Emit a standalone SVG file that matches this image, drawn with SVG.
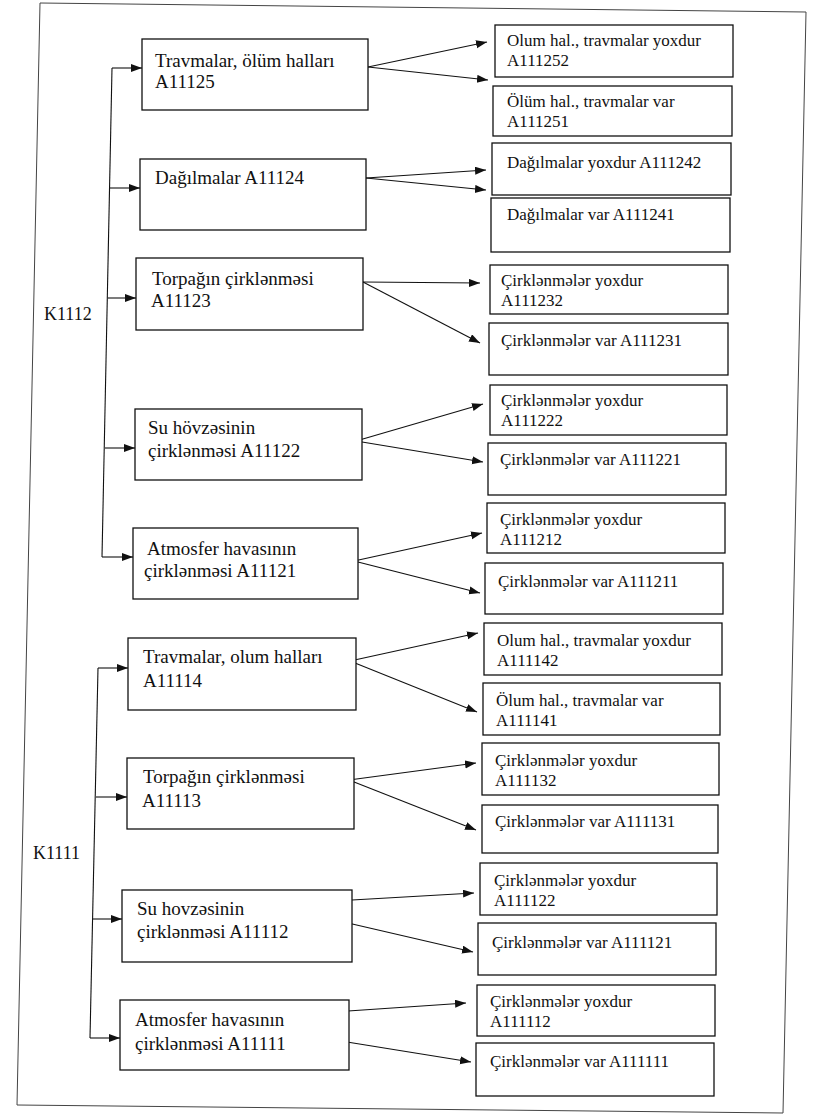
<svg xmlns="http://www.w3.org/2000/svg" width="813" height="1115" viewBox="0 0 813 1115">
  <style>
    .box { fill: #fff; stroke: #111; stroke-width: 1.3; }
    .frame { fill: none; stroke: #444; stroke-width: 1; }
    text { font-family: "Liberation Serif", "DejaVu Serif", serif; fill: #111; }
    .lt { font-size: 19px; }
    .rt { font-size: 17px; }
    .kl { font-size: 18px; }
    .ln { fill: none; stroke: #111; stroke-width: 1.1; }
    .ar { fill: none; stroke: #111; stroke-width: 1.1; marker-end: url(#head); }
  </style>
  <defs>
    <marker id="head" markerUnits="userSpaceOnUse" markerWidth="12" markerHeight="10" refX="11" refY="4" orient="auto">
      <path d="M0,0 L11,4 L0,8 Z" fill="#111"/>
    </marker>
  </defs>
  <rect width="813" height="1115" fill="#fff"/>

  <!-- outer frame -->
  <polygon class="frame" points="40,3 806,12 783,1113 17,1105"/>

  <!-- group labels -->
  <text class="kl" x="44" y="320">K1112</text>
  <text class="kl" x="33" y="859">K1111</text>

  <!-- connectors -->
  <g id="connectors">
    <!-- K1112 trunk and branches -->
    <polyline class="ln" points="112,68 102,557"/>
    <line class="ar" x1="112" y1="68" x2="142" y2="68"/>
    <line class="ar" x1="110" y1="188" x2="140" y2="188"/>
    <line class="ar" x1="108" y1="298" x2="136" y2="298"/>
    <line class="ar" x1="105" y1="448" x2="135" y2="448"/>
    <line class="ar" x1="102" y1="557" x2="133" y2="557"/>
    <!-- K1111 trunk and branches -->
    <polyline class="ln" points="98,668 90,1038"/>
    <line class="ar" x1="98" y1="668" x2="128" y2="668"/>
    <line class="ar" x1="96" y1="797" x2="127" y2="797"/>
    <line class="ar" x1="93" y1="919" x2="122" y2="919"/>
    <line class="ar" x1="90" y1="1038" x2="120" y2="1038"/>

    <!-- A11125 -->
    <line class="ar" x1="368" y1="67" x2="487" y2="42"/>
    <line class="ar" x1="368" y1="67" x2="488" y2="80"/>
    <!-- A11124 -->
    <line class="ar" x1="366" y1="178" x2="486" y2="170"/>
    <line class="ar" x1="366" y1="178" x2="486" y2="190"/>
    <!-- A11123 -->
    <line class="ar" x1="363" y1="282" x2="480" y2="283"/>
    <line class="ar" x1="363" y1="282" x2="480" y2="343"/>
    <!-- A11122 -->
    <line class="ar" x1="356" y1="441" x2="483" y2="404"/>
    <line class="ar" x1="356" y1="441" x2="483" y2="462"/>
    <!-- A11121 -->
    <line class="ar" x1="354" y1="561" x2="482" y2="533"/>
    <line class="ar" x1="354" y1="561" x2="480" y2="593"/>
    <!-- A11114 -->
    <line class="ar" x1="350" y1="661" x2="478" y2="633"/>
    <line class="ar" x1="350" y1="661" x2="477" y2="712"/>
    <!-- A11113 -->
    <line class="ar" x1="349" y1="780" x2="476" y2="763"/>
    <line class="ar" x1="349" y1="780" x2="476" y2="830"/>
    <!-- A11112 -->
    <line class="ar" x1="352" y1="900" x2="474" y2="893"/>
    <line class="ar" x1="348" y1="923" x2="473" y2="952"/>
    <!-- A11111 -->
    <line class="ar" x1="348" y1="1011" x2="466" y2="1003"/>
    <line class="ar" x1="347" y1="1042" x2="471" y2="1062"/>
  </g>

  <!-- second-level nodes, K1112 -->
  <g id="n-a11125"><rect class="box" x="142" y="39" width="226" height="71"/>
    <text class="lt" x="155" y="67">Travmalar, ölüm halları</text><text class="lt" x="155" y="88">A11125</text></g>
  <g id="n-a11124"><rect class="box" x="140" y="159" width="226" height="71"/>
    <text class="lt" x="155" y="184">Dağılmalar A11124</text></g>
  <g id="n-a11123"><rect class="box" x="136" y="258" width="227" height="72"/>
    <text class="lt" x="152" y="285">Torpağın çirklənməsi</text><text class="lt" x="151" y="307">A11123</text></g>
  <g id="n-a11122"><rect class="box" x="135" y="409" width="227" height="71"/>
    <text class="lt" x="148" y="434">Su hövzəsinin</text><text class="lt" x="148" y="457">çirklənməsi A11122</text></g>
  <g id="n-a11121"><rect class="box" x="133" y="528" width="225" height="71"/>
    <text class="lt" x="147" y="555">Atmosfer havasının</text><text class="lt" x="144" y="577">çirklənməsi A11121</text></g>

  <!-- second-level nodes, K1111 -->
  <g id="n-a11114"><rect class="box" x="128" y="638" width="228" height="72"/>
    <text class="lt" x="143" y="663">Travmalar, olum halları</text><text class="lt" x="143" y="687">A11114</text></g>
  <g id="n-a11113"><rect class="box" x="127" y="758" width="227" height="71"/>
    <text class="lt" x="143" y="783">Torpağın çirklənməsi</text><text class="lt" x="142" y="807">A11113</text></g>
  <g id="n-a11112"><rect class="box" x="122" y="890" width="230" height="72"/>
    <text class="lt" x="137" y="915">Su hovzəsinin</text><text class="lt" x="137" y="938">çirklənməsi A11112</text></g>
  <g id="n-a11111"><rect class="box" x="120" y="1000" width="229" height="70"/>
    <text class="lt" x="135" y="1026">Atmosfer havasının</text><text class="lt" x="135" y="1050">çirklənməsi A11111</text></g>

  <!-- outcome nodes -->
  <g id="n-a111252"><rect class="box" x="495" y="25" width="238" height="52"/>
    <text class="rt" x="507" y="46">Olum hal., travmalar yoxdur</text><text class="rt" x="507" y="66">A111252</text></g>
  <g id="n-a111251"><rect class="box" x="493" y="86" width="239" height="50"/>
    <text class="rt" x="507" y="107">Ölüm hal., travmalar var</text><text class="rt" x="507" y="127">A111251</text></g>
  <g id="n-a111242"><rect class="box" x="492" y="143" width="239" height="52"/>
    <text class="rt" x="507" y="168">Dağılmalar yoxdur A111242</text></g>
  <g id="n-a111241"><rect class="box" x="491" y="198" width="239" height="54"/>
    <text class="rt" x="507" y="220">Dağılmalar var A111241</text></g>
  <g id="n-a111232"><rect class="box" x="490" y="265" width="238" height="49"/>
    <text class="rt" x="501" y="286">Çirklənmələr yoxdur</text><text class="rt" x="501" y="306">A111232</text></g>
  <g id="n-a111231"><rect class="box" x="489" y="323" width="239" height="52"/>
    <text class="rt" x="501" y="346">Çirklənmələr var A111231</text></g>
  <g id="n-a111222"><rect class="box" x="490" y="385" width="237" height="50"/>
    <text class="rt" x="501" y="406">Çirklənmələr yoxdur</text><text class="rt" x="501" y="426">A111222</text></g>
  <g id="n-a111221"><rect class="box" x="488" y="443" width="238" height="52"/>
    <text class="rt" x="500" y="465">Çirklənmələr var A111221</text></g>
  <g id="n-a111212"><rect class="box" x="487" y="503" width="238" height="50"/>
    <text class="rt" x="500" y="525">Çirklənmələr yoxdur</text><text class="rt" x="500" y="545">A111212</text></g>
  <g id="n-a111211"><rect class="box" x="485" y="563" width="238" height="51"/>
    <text class="rt" x="498" y="587">Çirklənmələr var A111211</text></g>
  <g id="n-a111142"><rect class="box" x="484" y="623" width="238" height="52"/>
    <text class="rt" x="497" y="646">Olum hal., travmalar yoxdur</text><text class="rt" x="497" y="666">A111142</text></g>
  <g id="n-a111141"><rect class="box" x="483" y="683" width="237" height="52"/>
    <text class="rt" x="496" y="706">Ölum hal., travmalar var</text><text class="rt" x="496" y="726">A111141</text></g>
  <g id="n-a111132"><rect class="box" x="482" y="743" width="237" height="52"/>
    <text class="rt" x="495" y="766">Çirklənmələr yoxdur</text><text class="rt" x="495" y="786">A111132</text></g>
  <g id="n-a111131"><rect class="box" x="482" y="805" width="236" height="48"/>
    <text class="rt" x="495" y="827">Çirklənmələr var A111131</text></g>
  <g id="n-a111122"><rect class="box" x="480" y="863" width="237" height="52"/>
    <text class="rt" x="494" y="886">Çirklənmələr yoxdur</text><text class="rt" x="494" y="906">A111122</text></g>
  <g id="n-a111121"><rect class="box" x="478" y="923" width="238" height="52"/>
    <text class="rt" x="492" y="948">Çirklənmələr var A111121</text></g>
  <g id="n-a111112"><rect class="box" x="477" y="985" width="238" height="51"/>
    <text class="rt" x="490" y="1007">Çirklənmələr yoxdur</text><text class="rt" x="490" y="1027">A111112</text></g>
  <g id="n-a111111"><rect class="box" x="476" y="1043" width="238" height="53"/>
    <text class="rt" x="490" y="1067">Çirklənmələr var A111111</text></g>
</svg>
